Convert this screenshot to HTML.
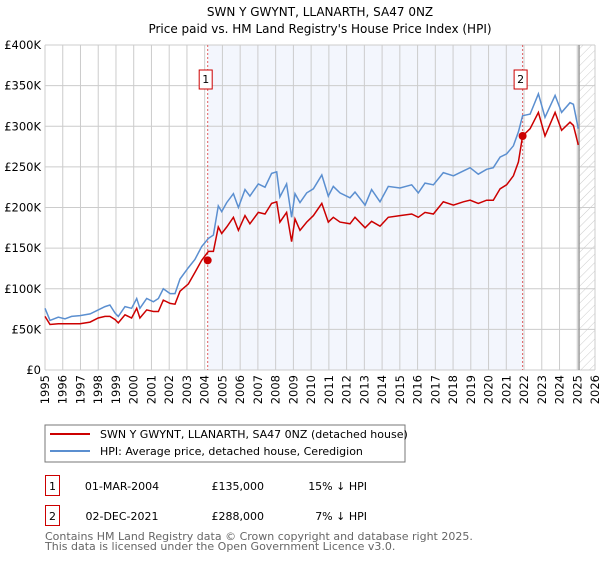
<!DOCTYPE html>
<html><head><meta charset="utf-8"><style>
body{margin:0;background:#fff;}
svg{font-family:"DejaVu Sans","Liberation Sans",sans-serif;}
</style></head><body>
<svg id="c" width="600" height="560" viewBox="0 0 600 560">
<defs><pattern id="hatch" width="6" height="6" patternUnits="userSpaceOnUse" patternTransform="rotate(45)"><line x1="0" y1="0" x2="0" y2="6" stroke="#ccc" stroke-width="1"/></pattern></defs>
<text x="320" y="16" text-anchor="middle" font-size="12">SWN Y GWYNT, LLANARTH, SA47 0NZ</text>
<text x="320" y="33" text-anchor="middle" font-size="12">Price paid vs. HM Land Registry's House Price Index (HPI)</text>
<g id="plot"></g>
<g>
<rect x="45" y="425" width="360" height="37" fill="#fff" stroke="#777"/>
<line x1="50" y1="434" x2="90" y2="434" stroke="#cc0000" stroke-width="2"/>
<text x="100" y="438" font-size="11">SWN Y GWYNT, LLANARTH, SA47 0NZ (detached house)</text>
<line x1="50" y1="451" x2="90" y2="451" stroke="#5b8fd0" stroke-width="2"/>
<text x="100" y="455" font-size="11">HPI: Average price, detached house, Ceredigion</text>
</g>
<g font-size="11">
<rect x="45.5" y="475.5" width="14" height="20" fill="none" stroke="#cc0000"/>
<text x="52.5" y="490" text-anchor="middle">1</text>
<text x="122" y="490" text-anchor="middle">01-MAR-2004</text>
<text x="264" y="490" text-anchor="end">£135,000</text>
<text x="367" y="490" text-anchor="end">15% ↓ HPI</text>
<rect x="45.5" y="505.5" width="14" height="20" fill="none" stroke="#cc0000"/>
<text x="52.5" y="520" text-anchor="middle">2</text>
<text x="122" y="520" text-anchor="middle">02-DEC-2021</text>
<text x="264" y="520" text-anchor="end">£288,000</text>
<text x="367" y="520" text-anchor="end">7% ↓ HPI</text>
</g>
<text x="45" y="540" font-size="11" fill="#666">Contains HM Land Registry data © Crown copyright and database right 2025.</text>
<text x="45" y="550" font-size="11" fill="#666">This data is licensed under the Open Government Licence v3.0.</text>
</svg>
<script>
const hpiYears=[1995.0,1995.28,1995.75,1996.13,1996.5,1996.97,1997.54,1998.0,1998.38,1998.66,1998.95,1999.13,1999.51,1999.88,2000.17,2000.35,2000.73,2001.11,2001.39,2001.67,2002.05,2002.33,2002.61,2003.08,2003.45,2003.83,2004.21,2004.49,2004.77,2004.96,2005.24,2005.62,2005.9,2006.27,2006.55,2007.02,2007.4,2007.77,2008.06,2008.24,2008.62,2008.9,2009.09,2009.37,2009.75,2010.13,2010.6,2010.97,2011.25,2011.63,2012.19,2012.47,2013.04,2013.41,2013.88,2014.35,2015.01,2015.67,2016.04,2016.42,2016.89,2017.45,2018.02,2018.58,2018.96,2019.42,2019.89,2020.27,2020.65,2021.02,2021.4,2021.68,2021.92,2022.34,2022.81,2023.18,2023.75,2024.12,2024.59,2024.78,2025.06];
const hpiValues=[76,61,65,63,66,67,69,74,78,80,70,66,78,76,88,76,88,84,88,100,94,94,112,126,136,152,162,166,202,195,206,217,200,222,214,229,225,242,244,213,229,188,217,206,218,223,240,214,226,218,212,219,203,222,207,226,224,228,218,230,228,243,239,245,249,241,247,249,262,266,276,293,313,315,340,311,338,317,329,327,297];
const priceYears=hpiYears;
const priceValues=[66,56,57,57,57,57,59,64,66,66,62,58,68,64,76,64,74,72,72,86,82,81,97,106,120,135,146,146,176,168,176,188,172,190,180,194,192,205,207,182,194,158,186,172,182,190,205,182,188,182,180,188,175,183,177,188,190,192,188,194,192,207,203,207,209,205,209,209,223,228,239,256,288,297,317,288,317,295,305,301,277];
const sales=[[2004.17,135],[2021.92,288]];
const yTicks=[0,50,100,150,200,250,300,350,400];
const yTickLabels=["£0","£50K","£100K","£150K","£200K","£250K","£300K","£350K","£400K"];
const xTicks=[1995,1996,1997,1998,1999,2000,2001,2002,2003,2004,2005,2006,2007,2008,2009,2010,2011,2012,2013,2014,2015,2016,2017,2018,2019,2020,2021,2022,2023,2024,2025,2026];

const X0=45,X1=595,Y0=370,Y1=45;
const xs=y=>X0+(y-1995)/(2026-1995)*(X1-X0);
const ys=v=>Y0-v/400*(Y0-Y1);
const NS="http://www.w3.org/2000/svg";
const g=document.getElementById('plot');
function mk(tag,attrs,parent){const e=document.createElementNS(NS,tag);for(const k in attrs)e.setAttribute(k,attrs[k]);(parent||g).appendChild(e);return e;}
let e;
e=mk('rect',{x:xs(sales[0][0]),y:Y1,width:xs(sales[1][0])-xs(sales[0][0]),height:Y0-Y1,fill:'#f3f6fd'});


e=mk('rect',{x:xs(2025.1),y:Y1,width:X1-xs(2025.1),height:Y0-Y1,fill:'url(#hatch)'});


yTicks.forEach((t,i)=>{
  e=mk('line',{x1:X0,x2:X1,y1:ys(t),y2:ys(t),stroke:'#ccc'});
  
  
  e=mk('text',{x:X0-4,y:ys(t)+4,'text-anchor':'end','font-size':'11.5'});
  e.textContent=yTickLabels[i];
  
  
});
xTicks.forEach(t=>{
  e=mk('line',{x1:xs(t),x2:xs(t),y1:Y1,y2:Y0,stroke:'#ccc'});
  
  
  e=mk('text',{x:0,y:0,'text-anchor':'end','font-size':'11.5',transform:`translate(${xs(t)+4},${Y0+5}) rotate(-90)`});
  e.textContent=t;
  
  
});
e=mk('line',{x1:xs(2025.1),x2:xs(2025.1),y1:Y1,y2:Y0,stroke:'#999','stroke-width':1.5});


sales.forEach((s,i)=>{
  e=mk('line',{x1:xs(s[0]),x2:xs(s[0]),y1:Y1,y2:Y0,stroke:'#e06060','stroke-dasharray':'2,2'});
  
  
  e=mk('rect',{x:xs(s[0])-8.5,y:70,width:13,height:19,fill:'#fff',stroke:'#cc0000'});
  
  
  e=mk('text',{x:xs(s[0])-2,y:83,'text-anchor':'middle','font-size':'11'});
  e.textContent=String(i+1);
  
  
});
const pts=(yr,v)=>yr.map((y,i)=>xs(y).toFixed(1)+','+ys(v[i]).toFixed(1)).join(' ');
e=mk('polyline',{points:pts(hpiYears,hpiValues),fill:'none',stroke:'#5b8fd0','stroke-width':1.5});


e=mk('polyline',{points:pts(priceYears,priceValues),fill:'none',stroke:'#cc0000','stroke-width':1.5});


sales.forEach(s=>{
  e=mk('circle',{cx:xs(s[0]),cy:ys(s[1]),r:4,fill:'#cc0000'});
  
  
});
</script>
</body></html>
